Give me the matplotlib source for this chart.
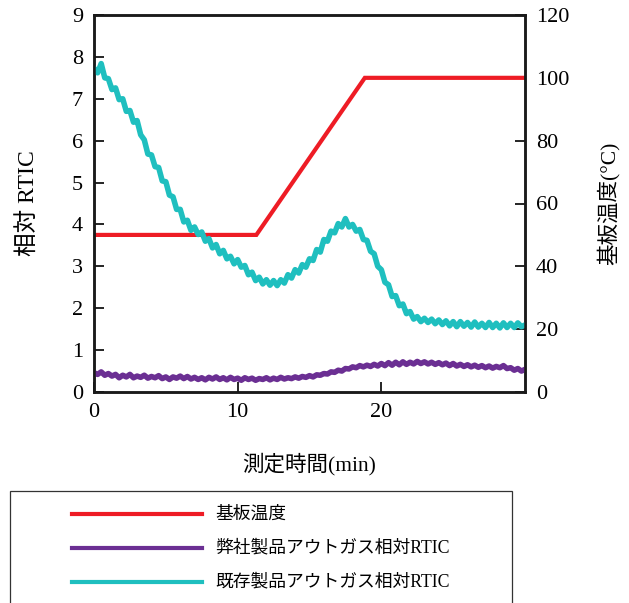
import numpy as np
import matplotlib
matplotlib.use('Agg')
import matplotlib.pyplot as plt
from matplotlib.lines import Line2D
from matplotlib.patches import Rectangle

plt.rcParams['font.family'] = ['Liberation Serif', 'Noto Sans CJK JP']

# time axis (min), 0.25 min step
t = np.arange(0, 30.001, 0.25)

existing_rtic = [
    7.73, 7.62, 7.84, 7.50, 7.48, 7.22, 7.26, 6.98, 7.00, 6.70, 6.72, 6.44,
    6.48, 6.14, 6.02, 5.68, 5.66, 5.38, 5.36, 5.04, 5.02, 4.70, 4.66, 4.36,
    4.36, 4.06, 4.10, 3.86, 3.94, 3.76, 3.82, 3.60, 3.66, 3.44, 3.52, 3.30,
    3.38, 3.18, 3.24, 3.06, 3.16, 2.98, 3.02, 2.80, 2.86, 2.66, 2.74, 2.58,
    2.68, 2.55, 2.66, 2.54, 2.68, 2.60, 2.80, 2.72, 2.92, 2.84, 3.04, 2.98,
    3.18, 3.14, 3.40, 3.34, 3.64, 3.60, 3.84, 3.80, 4.02, 3.94, 4.14, 3.94,
    4.00, 3.84, 3.88, 3.64, 3.62, 3.36, 3.30, 3.00, 2.92, 2.62, 2.56, 2.28,
    2.30, 2.06, 2.10, 1.87, 1.92, 1.74, 1.80, 1.68, 1.76, 1.66, 1.74, 1.63,
    1.72, 1.61, 1.70, 1.58, 1.68, 1.56, 1.68, 1.57, 1.66, 1.55, 1.67, 1.55,
    1.64, 1.54, 1.66, 1.54, 1.64, 1.53, 1.65, 1.54, 1.64, 1.54, 1.65, 1.56,
    1.60,
]

our_rtic = [
    0.46, 0.42, 0.48, 0.40, 0.44, 0.38, 0.42, 0.34, 0.40, 0.36, 0.42, 0.34,
    0.38, 0.35, 0.40, 0.33, 0.37, 0.34, 0.39, 0.32, 0.36, 0.30, 0.36, 0.33,
    0.38, 0.32, 0.37, 0.31, 0.35, 0.30, 0.34, 0.29, 0.35, 0.31, 0.36, 0.30,
    0.34, 0.29, 0.35, 0.30, 0.33, 0.28, 0.34, 0.30, 0.33, 0.28, 0.32, 0.30,
    0.34, 0.29, 0.33, 0.30, 0.35, 0.31, 0.34, 0.32, 0.36, 0.33, 0.37, 0.35,
    0.39, 0.36, 0.41, 0.40, 0.44, 0.43, 0.48, 0.47, 0.52, 0.50, 0.56, 0.55,
    0.60, 0.58, 0.63, 0.60, 0.64, 0.61, 0.66, 0.62, 0.68, 0.63, 0.70, 0.64,
    0.71, 0.65, 0.72, 0.66, 0.71, 0.67, 0.73, 0.68, 0.72, 0.67, 0.71, 0.66,
    0.70, 0.65, 0.69, 0.63, 0.68, 0.62, 0.66, 0.61, 0.65, 0.60, 0.64, 0.59,
    0.63, 0.58, 0.62, 0.57, 0.61, 0.58, 0.63, 0.56, 0.58, 0.52, 0.56, 0.50,
    0.54,
]

temp_t = [0, 11.3, 18.85, 30]
temp_c = [50, 50, 100, 100]

red = '#ee1c25'
purple = '#6b2f93'
cyan = '#1fbfbf'

fig = plt.figure(figsize=(6.29, 6.03), dpi=100)
ax = fig.add_axes([94 / 629, 1 - 392 / 603, 431 / 629, 377 / 603])
ax2 = ax.twinx()

ax2.plot(temp_t, temp_c, color=red, lw=3.0, solid_joinstyle='miter')
ax.plot(t, our_rtic, color=purple, lw=4.0)
ax.plot(t, existing_rtic, color=cyan, lw=4.0)

ax.set_zorder(ax2.get_zorder() + 1)
ax.patch.set_visible(False)

ax.set_xlim(0, 30)
ax.set_ylim(0, 9)
ax2.set_ylim(0, 120)
ax.set_xticks([0, 10, 20])
ax.set_yticks(range(0, 10))
ax2.set_yticks(range(0, 121, 20))

for a in (ax, ax2):
    for s in a.spines.values():
        s.set_linewidth(1.8)
        s.set_color('#1a1a1a')
ax.tick_params(direction='in', length=7, width=1.2, labelsize=16, pad=8)
ax2.tick_params(direction='in', length=7, width=1.2, labelsize=16, pad=8)

ax.set_xlabel('測定時間(min)', fontsize=15.5, labelpad=22)
ax.set_ylabel('相対 RTIC', fontsize=17, labelpad=24)
ax2.set_ylabel('基板温度(°C)', fontsize=15.5, labelpad=20)

# legend box drawn in pixel space of the figure
def px(x, y):
    return x / 629, 1 - y / 603

x0, y0 = px(10, 491)
x1, y1 = px(512, 610)
fig.patches.append(Rectangle((x0, y1), x1 - x0, y0 - y1, transform=fig.transFigure,
                             fill=False, edgecolor='#333333', lw=0.9))
legend_items = [('基板温度', red, 514), ('弊社製品アウトガス相対RTIC', purple, 548),
                ('既存製品アウトガス相対RTIC', cyan, 582)]
for label, col, yy in legend_items:
    lx0, ly = px(72, yy)
    lx1, _ = px(202, yy)
    fig.lines.append(Line2D([lx0, lx1], [ly, ly], transform=fig.transFigure,
                            color=col, lw=3.0))
    tx, _ = px(215, yy)
    fig.text(tx, ly, label, fontsize=12.8, va='center', ha='left')

fig.savefig('out.png', dpi=100)
